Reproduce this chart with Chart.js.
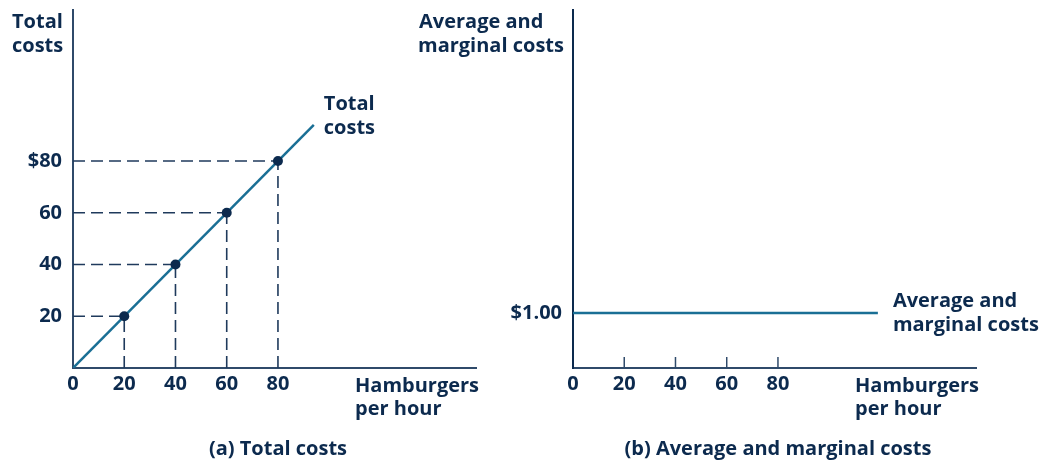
<!DOCTYPE html>
<html>
<head>
<meta charset="utf-8">
<script src="https://cdn.jsdelivr.net/npm/chart.js@4.4.1/dist/chart.umd.min.js"></script>
<style>
  html, body { margin: 0; padding: 0; background: #ffffff; }
  #wrap { position: relative; width: 1044px; height: 464px; overflow: hidden; }
  canvas { position: absolute; top: 0; }
  #left { left: 0; }
  #right { left: 400px; }
</style>
</head>
<body>
<div id="wrap">
  <canvas id="left" width="522" height="464"></canvas>
  <canvas id="right" width="644" height="464"></canvas>
</div>
<script>
// ---- data ----
const quantities = [20, 40, 60, 80];          // hamburgers per hour
const totalCosts = [20, 40, 60, 80];          // $ total cost
const totalLineQ = [0, 94];                   // total cost line extent (quantity)
const totalLineC = [0, 94];                   // total cost line extent (cost)
const xTickValues = [0, 20, 40, 60, 80];
const xTickLabels = ['0', '20', '40', '60', '80'];
const leftYTickValues = [20, 40, 60, 80];
const leftYTickLabels = ['20', '40', '60', '$80'];
const avgCost = 1.00;                         // average and marginal cost
const avgLineQ = [0, 119];                    // flat line extent
const rightYTickValues = [1];
const rightYTickLabels = ['$1.00'];
const xAxisMax = 157.3;
const leftYMax = 138.4;
const rightYMax = 6.51;

// ---- styles ----
const NAVY = '#0c2a4e';
const AXIS = '#2f4a6a';
const DASH = '#1f3a5c';
const TEAL = '#1a6f95';
const FONT = '"Open Sans", "Noto Sans", sans-serif';
const FSIZE = 20;
const tickFont = { family: FONT, size: FSIZE, weight: 'bold' };

function textPlugin(items) {
  return {
    id: 'texts',
    afterDraw(chart) {
      const ctx = chart.ctx;
      ctx.save();
      ctx.fillStyle = NAVY;
      ctx.font = 'bold ' + FSIZE + 'px ' + FONT;
      ctx.textBaseline = 'middle';
      for (const it of items(chart)) {
        ctx.textAlign = it.align || 'left';
        ctx.fillText(it.t, it.x, it.y);
      }
      ctx.restore();
    }
  };
}

function xScale() {
  return {
    type: 'linear', min: 0, max: xAxisMax,
    afterBuildTicks: s => { s.ticks = xTickValues.map(v => ({ value: v })); },
    afterFit: s => { s.height = 96; s.paddingLeft = 0; s.paddingRight = 0; },
    grid: { display: true, drawOnChartArea: false, drawTicks: false },
    border: { display: true, color: AXIS, width: 2 },
    ticks: {
      color: NAVY, font: tickFont, padding: 4, maxRotation: 0,
      callback: (v) => { const i = xTickValues.indexOf(v); return i >= 0 ? xTickLabels[i] : ''; }
    }
  };
}

function yScale(max, vals, labels, width, color) {
  return {
    type: 'linear', min: 0, max: max,
    afterBuildTicks: s => { s.ticks = vals.map(v => ({ value: v })); },
    afterFit: s => { s.width = width; s.paddingTop = 0; s.paddingBottom = 0; },
    grid: { display: true, drawOnChartArea: false, drawTicks: false },
    border: { display: true, color: color, width: 2 },
    ticks: {
      color: NAVY, font: tickFont, padding: 11,
      callback: (v) => { const i = vals.indexOf(v); return i >= 0 ? labels[i] : ''; }
    }
  };
}

// ---- left chart: total costs ----
const leftDatasets = [];
leftDatasets.push({
  data: quantities.map((q, i) => ({ x: q, y: totalCosts[i] })),
  showLine: false, pointRadius: 5, pointBackgroundColor: NAVY, pointBorderColor: NAVY, pointBorderWidth: 0, order: 0
});
leftDatasets.push({
  data: totalLineQ.map((q, i) => ({ x: q, y: totalLineC[i] })),
  borderColor: TEAL, borderWidth: 2.5, pointRadius: 0, showLine: true, order: 1
});
quantities.forEach((q, i) => {
  leftDatasets.push({
    data: [{ x: 0, y: totalCosts[i] }, { x: q, y: totalCosts[i] }],
    borderColor: DASH, borderWidth: 1.6, borderDash: [12, 6], pointRadius: 0, showLine: true, order: 2
  });
  leftDatasets.push({
    data: [{ x: q, y: 0 }, { x: q, y: totalCosts[i] }],
    borderColor: DASH, borderWidth: 1.6, borderDash: [12, 6], pointRadius: 0, showLine: true, order: 2
  });
});

new Chart(document.getElementById('left'), {
  type: 'scatter',
  data: { datasets: leftDatasets },
  options: {
    responsive: false, animation: false, devicePixelRatio: 1,
    layout: { padding: { left: 0, top: 10, right: 46, bottom: 0 } },
    plugins: { legend: { display: false }, tooltip: { enabled: false } },
    scales: {
      x: xScale(),
      y: yScale(leftYMax, leftYTickValues, leftYTickLabels, 73, AXIS)
    }
  },
  plugins: [textPlugin(chart => {
    const xs = chart.scales.x, ys = chart.scales.y;
    const a = chart.chartArea;
    const endX = xs.getPixelForValue(totalLineQ[1]);
    const endY = ys.getPixelForValue(totalLineC[1]);
    return [
      { t: 'Total', x: 12, y: 22 },
      { t: 'costs', x: 12, y: 46 },
      { t: 'Total', x: endX + 10, y: endY - 21 },
      { t: 'costs', x: endX + 10, y: endY + 3 },
      { t: 'Hamburgers', x: a.right - 121, y: a.bottom + 18 },
      { t: 'per hour', x: a.right - 121, y: a.bottom + 41 },
      { t: '(a) Total costs', x: xs.getPixelForValue(80), y: 449, align: 'center' }
    ];
  })]
});

// ---- right chart: average and marginal costs ----
const rightDatasets = [];
rightDatasets.push({
  data: avgLineQ.map(q => ({ x: q, y: avgCost })),
  borderColor: TEAL, borderWidth: 2.5, pointRadius: 0, showLine: true, order: 0
});
quantities.forEach(q => {
  rightDatasets.push({
    data: [{ x: q, y: 0 }, { x: q, y: 0.2 }],
    borderColor: AXIS, borderWidth: 1.5, pointRadius: 0, showLine: true, order: 1
  });
});

new Chart(document.getElementById('right'), {
  type: 'scatter',
  data: { datasets: rightDatasets },
  options: {
    responsive: false, animation: false, devicePixelRatio: 1,
    layout: { padding: { left: 0, top: 10, right: 68, bottom: 0 } },
    plugins: { legend: { display: false }, tooltip: { enabled: false } },
    scales: {
      x: xScale(),
      y: yScale(rightYMax, rightYTickValues, rightYTickLabels, 173, NAVY)
    }
  },
  plugins: [textPlugin(chart => {
    const xs = chart.scales.x, ys = chart.scales.y;
    const a = chart.chartArea;
    const endX = xs.getPixelForValue(avgLineQ[1]);
    const lineY = ys.getPixelForValue(avgCost);
    return [
      { t: 'Average and', x: 19, y: 22 },
      { t: 'marginal costs', x: 18, y: 46 },
      { t: 'Average and', x: endX + 15, y: lineY - 12 },
      { t: 'marginal costs', x: endX + 15, y: lineY + 12 },
      { t: 'Hamburgers', x: a.right - 121, y: a.bottom + 18 },
      { t: 'per hour', x: a.right - 121, y: a.bottom + 41 },
      { t: '(b) Average and marginal costs', x: xs.getPixelForValue(80), y: 449, align: 'center' }
    ];
  })]
});
</script>
</body>
</html>
